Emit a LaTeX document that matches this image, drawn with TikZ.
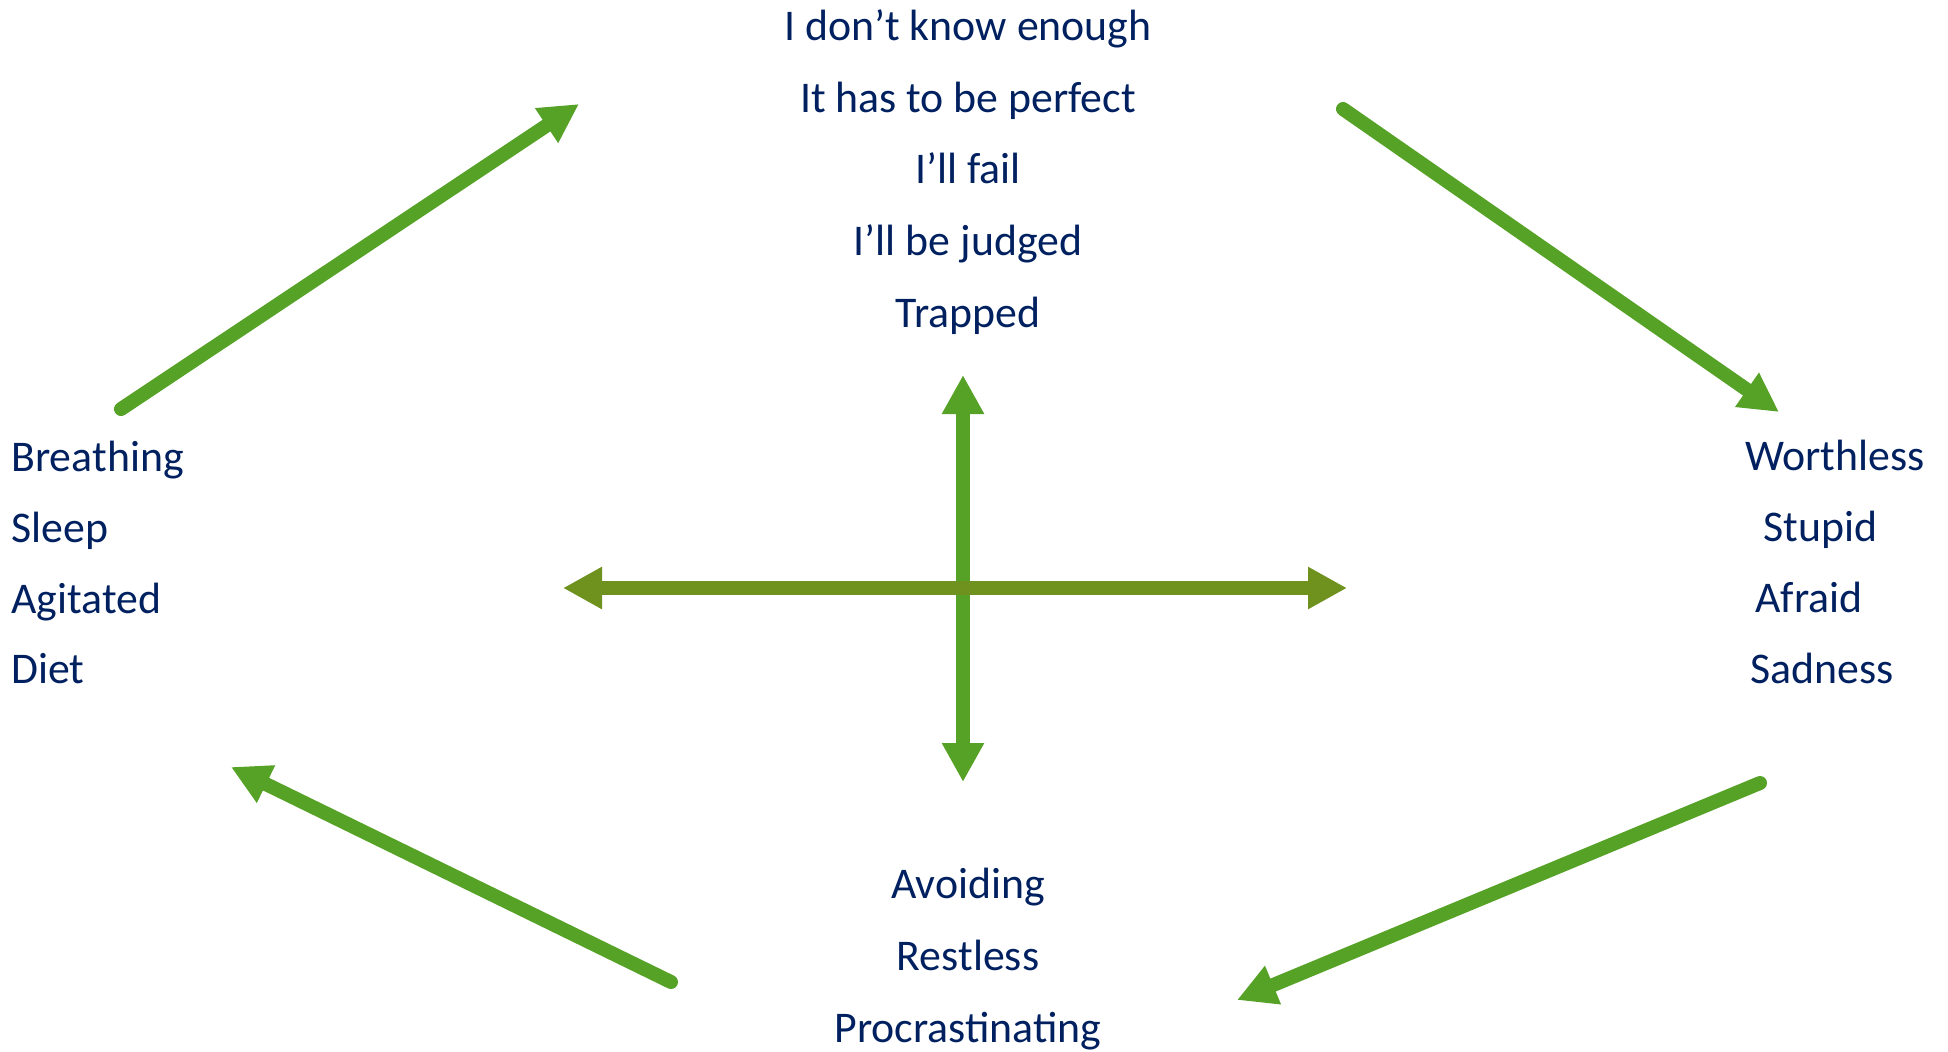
\documentclass[tikz,border=0pt]{standalone}
\usepackage{fontspec}
\setmainfont{Carlito}
\usetikzlibrary{arrows.meta}
\definecolor{cyclegreen}{RGB}{86,162,38}
\definecolor{crossolive}{RGB}{111,146,31}
\definecolor{wordblue}{RGB}{0,32,96}
\tikzset{
	word/.style={text=wordblue, inner sep=0pt, font=\fontsize{21.9pt}{26pt}\selectfont},
	cyclearrow/.style={draw=cyclegreen, line width=7pt, line cap=round,
		-{Triangle[length=19.5pt, width=19.5pt]}},
	crossarrow/.style={line width=6.6pt,
		{Triangle[length=19.5pt, width=19.8pt]}-{Triangle[length=19.5pt, width=19.8pt]}}
}
\begin{document}
\begin{tikzpicture}[x=0.5pt, y=-0.5pt]
	\useasboundingbox (0,0) rectangle (1948,1051);
	% thoughts
	\node[word, anchor=base] (know) at (968,40) {I don’t know enough};
	\node[word, anchor=base] (perfect) at (968,112) {It has to be perfect};
	\node[word, anchor=base] (fail) at (968,183) {I’ll fail};
	\node[word, anchor=base] (judged) at (968,255) {I’ll be judged};
	\node[word, anchor=base] (trapped) at (968,327) {Trapped};
	% feelings
	\node[word, anchor=base west] (worthless) at (1745,470) {Worthless};
	\node[word, anchor=base west] (stupid) at (1763,541) {Stupid};
	\node[word, anchor=base west] (afraid) at (1755,612) {Afraid};
	\node[word, anchor=base west] (sadness) at (1750,683) {Sadness};
	% behaviour
	\node[word, anchor=base] (avoiding) at (968,898) {Avoiding};
	\node[word, anchor=base] (restless) at (968,970) {Restless};
	\node[word, anchor=base] (procrast) at (968,1042) {Procrastinating};
	% body
	\node[word, anchor=base west] (breathing) at (11,471) {Breathing};
	\node[word, anchor=base west] (sleep) at (11,542) {Sleep};
	\node[word, anchor=base west] (agitated) at (11,613) {Agitated};
	\node[word, anchor=base west] (diet) at (11,683) {Diet};
	% cycle arrows
	\coordinate (bodyout) at (121,409);
	\coordinate (thoughtin) at (579,104);
	\coordinate (thoughtout) at (1343,109);
	\coordinate (feelin) at (1779,412);
	\coordinate (feelout) at (1760,783);
	\coordinate (behavin) at (1237,1000);
	\coordinate (behavout) at (671,982);
	\coordinate (bodyin) at (231,767);
	\draw[cyclearrow] (bodyout) -- (thoughtin);
	\draw[cyclearrow] (thoughtout) -- (feelin);
	\draw[cyclearrow] (feelout) -- (behavin);
	\draw[cyclearrow] (behavout) -- (bodyin);
	% cross
	\coordinate (crossup) at (963,375);
	\coordinate (crossdown) at (963,782);
	\coordinate (crossleft) at (563,588);
	\coordinate (crossright) at (1347,588);
	\draw[crossarrow, draw=cyclegreen, fill=cyclegreen] (crossdown) -- (crossup);
	\draw[crossarrow, draw=crossolive, fill=crossolive] (crossleft) -- (crossright);
\end{tikzpicture}
\end{document}
